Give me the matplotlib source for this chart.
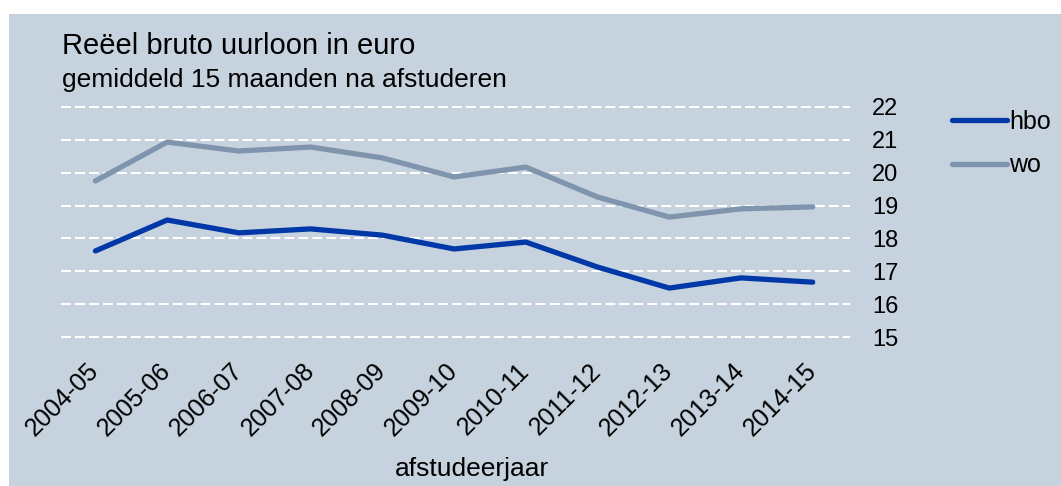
import matplotlib.pyplot as plt
from matplotlib.patches import Rectangle

plt.rcParams['font.family'] = ['Liberation Sans', 'DejaVu Sans']

# gegevens
jaren = ['2004-05', '2005-06', '2006-07', '2007-08', '2008-09', '2009-10',
         '2010-11', '2011-12', '2012-13', '2013-14', '2014-15']
hbo = [17.62, 18.56, 18.17, 18.29, 18.10, 17.68, 17.89, 17.13, 16.49, 16.80, 16.67]
wo = [19.75, 20.93, 20.66, 20.78, 20.45, 19.87, 20.17, 19.26, 18.65, 18.90, 18.96]
yticks = [15, 16, 17, 18, 19, 20, 21, 22]

W, H = 1061, 486
bg = '#C6D2DE'

fig = plt.figure(figsize=(W / 100, H / 100), dpi=100)
fig.patch.set_facecolor('white')
# achtergrondvlak (witte rand links en boven)
fig.patches.append(Rectangle((9 / W, 0), 1 - 9 / W, 1 - 14 / H,
                             transform=fig.transFigure, facecolor=bg,
                             edgecolor='none', zorder=-5))

ax = fig.add_axes([61 / W, 1 - 353.5 / H, (850 - 61) / W, (353.5 - 90.5) / H])
ax.set_facecolor('none')
ax.set_zorder(2)

x = range(len(jaren))
ax.plot(x, hbo, color='#0038A8', lw=3.8, label='hbo', solid_capstyle='round', zorder=3)
ax.plot(x, wo, color='#7F94AD', lw=3.8, label='wo', solid_capstyle='round', zorder=3)

ax.set_xlim(-0.48, 10.52)
ax.set_ylim(14.5, 22.5)
ax.set_yticks(yticks)
ax.set_xticks(list(x))
ax.set_xticklabels(jaren, rotation=45, ha='right', va='center',
                   rotation_mode='anchor', fontsize=18)
ax.yaxis.tick_right()
ax.tick_params(axis='y', length=0, pad=16, labelsize=17)
ax.tick_params(axis='x', length=0, pad=10)
ax.grid(axis='y', color='white', linestyle=(0, (4.8, 1.9)), linewidth=1.5)
ax.grid(axis='x', visible=False)
for s in ax.spines.values():
    s.set_visible(False)

fig.text(62 / W, 1 - 54 / H, 'Reëel bruto uurloon in euro', fontsize=21,
         va='baseline', ha='left')
fig.text(62 / W, 1 - 87 / H, 'gemiddeld 15 maanden na afstuderen', fontsize=19,
         va='baseline', ha='left')
fig.text(472 / W, 1 - 469 / H, 'afstudeerjaar', fontsize=19, ha='center', va='center')

fig.legend(loc='upper left', bbox_to_anchor=(952 / W, 1 - 110 / H), frameon=False,
           fontsize=18, borderpad=0, borderaxespad=0, handlelength=2.2,
           handletextpad=0.1, labelspacing=0.78)

fig.savefig('out.png', dpi=100, facecolor='white')
